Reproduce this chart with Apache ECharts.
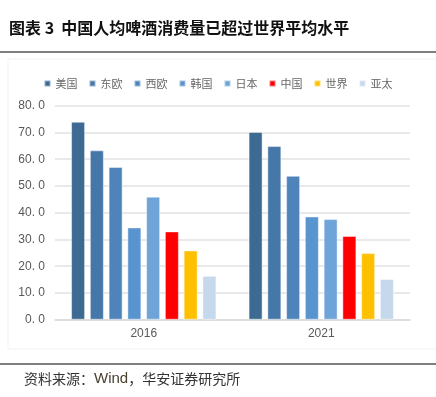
<!DOCTYPE html>
<html>
<head>
<meta charset="utf-8">
<script src="https://cdn.jsdelivr.net/npm/echarts@6/dist/echarts.min.js"></script>
<style>html,body{margin:0;padding:0;background:#fff;}#c{width:436px;height:397px;}</style>
</head>
<body>
<div id="c"></div>
<script>
const categories = ['2016', '2021'];
const seriesNames = ['美国', '东欧', '西欧', '韩国', '日本', '中国', '世界', '亚太'];
const usa = [74.0, 70.2];
const easternEurope = [63.3, 64.9];
const westernEurope = [57.1, 53.8];
const korea = [34.5, 38.6];
const japan = [46.0, 37.6];
const china = [33.0, 31.3];
const world = [25.9, 24.9];
const asiaPacific = [16.4, 15.2];
const yTicks = [0, 10, 20, 30, 40, 50, 60, 70, 80];

const values = [usa, easternEurope, westernEurope, korea, japan, china, world, asiaPacific];
const colors = ['#3C6A93', '#4577A8', '#4E84BA', '#5894CE', '#6FA4D8', '#FF0000', '#FFC000', '#C6D8EC'];

const chart = echarts.init(document.getElementById('c'), null, {renderer: 'canvas'});
const font = '"Noto Sans CJK SC", "Noto Sans", sans-serif';

chart.setOption({
  animation: false,
  color: colors,
  textStyle: {fontFamily: font},
  graphic: [
    {type: 'text', left: 9, top: 20, style: {text: '图表 3  中国人均啤酒消费量已超过世界平均水平', font: 'bold 16px ' + font, fill: '#111'}},
    {type: 'line', shape: {x1: 0, y1: 52, x2: 436, y2: 52}, style: {stroke: '#555', lineWidth: 1.5}},
    {type: 'rect', shape: {x: 8, y: 59, width: 440, height: 290}, style: {fill: 'none', stroke: '#f3f3f3', lineWidth: 1}, z: -1},
    {type: 'line', shape: {x1: 0, y1: 364, x2: 436, y2: 364}, style: {stroke: '#555', lineWidth: 1.5}},
    {type: 'text', left: 24, top: 371, style: {
      text: '{a|资料来源：}{b|Wind}{a|，华安证券研究所}',
      rich: {
        a: {font: '14px ' + font, fill: '#333'},
        b: {font: '15px "Liberation Sans", Arial, sans-serif', fill: '#4a4030'}
      }
    }}
  ],
  legend: {
    top: 73,
    left: 'center',
    icon: 'rect',
    itemWidth: 6,
    itemHeight: 6,
    itemGap: 11,
    textStyle: {fontSize: 11, color: '#666', fontFamily: font},
    data: seriesNames
  },
  grid: {left: 55, right: 26, top: 105.7, bottom: 77.3, containLabel: false},
  xAxis: {
    type: 'category',
    data: categories,
    axisLine: {show: true, lineStyle: {color: '#d9d9d9', width: 1.5}},
    axisTick: {show: false},
    axisLabel: {color: '#595959', fontSize: 12, margin: 8, fontFamily: '"Liberation Sans", Arial, sans-serif'}
  },
  yAxis: {
    type: 'value',
    min: yTicks[0],
    max: yTicks[yTicks.length - 1],
    interval: 10,
    axisLine: {show: false},
    axisTick: {show: false},
    splitLine: {lineStyle: {color: '#e2e2e2', width: 1.5}},
    axisLabel: {color: '#595959', fontSize: 12, margin: 10, fontFamily: '"Liberation Sans", Arial, sans-serif',
      formatter: v => v.toFixed(1).replace('.', '. ')}
  },
  series: seriesNames.map((name, i) => ({
    name: name,
    type: 'bar',
    data: values[i],
    barWidth: 14,
    barGap: '34%',
    itemStyle: {color: colors[i], borderColor: 'rgba(255,255,255,0.45)', borderWidth: 1}
  }))
});
</script>
</body>
</html>
